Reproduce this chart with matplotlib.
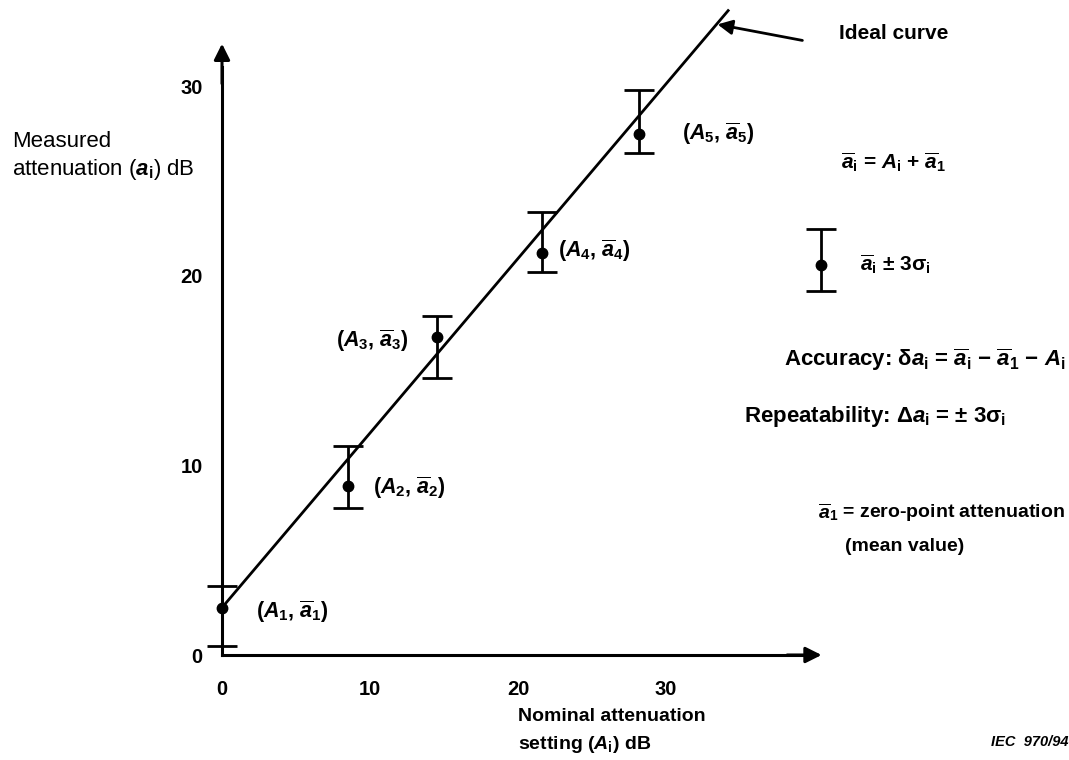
import matplotlib
matplotlib.use("Agg")
import matplotlib.pyplot as plt

plt.rcParams['font.family'] = ['Liberation Sans', 'DejaVu Sans']
plt.rcParams['mathtext.fontset'] = 'custom'
plt.rcParams['mathtext.rm'] = 'Liberation Sans:bold'
plt.rcParams['mathtext.it'] = 'Liberation Sans:italic:bold'
plt.rcParams['mathtext.bf'] = 'Liberation Sans:bold'
plt.rcParams['mathtext.sf'] = 'Liberation Sans:bold'

# Nominal settings A_i and measured means / spread (dB)
nominal = [0.0, 8.5, 14.5, 21.6, 28.2]
mean_att = [2.5, 8.9, 16.8, 21.2, 27.5]
err_low = [2.05, 1.15, 2.2, 1.0, 1.0]
err_high = [1.15, 2.15, 1.1, 2.2, 2.3]
point_labels = [r'($A_1$, $\overline{a}_1$)', r'($A_2$, $\overline{a}_2$)',
                r'($A_3$, $\overline{a}_3$)', r'($A_4$, $\overline{a}_4$)',
                r'($A_5$, $\overline{a}_5$)']
label_pos = [(2.3, 2.3), (10.2, 8.8), (7.7, 16.6), (22.7, 21.3), (31.1, 27.5)]

# ideal curve end points
ideal_x = [0.0, 34.2]
ideal_y = [2.5, 34.0]

ticks = [0, 10, 20, 30]

fs = 15

fig = plt.figure(figsize=(10.69, 7.60), dpi=100)
ax = fig.add_axes([0, 0, 1, 1])
ax.set_xlim(-15.0, 57.23)
ax.set_ylim(-5.54, 34.56)

# axes through the origin
for side in ['top', 'right']:
    ax.spines[side].set_visible(False)
ax.spines['left'].set_position(('data', 0))
ax.spines['bottom'].set_position(('data', 0))
ax.spines['left'].set_bounds(0, 31.0)
ax.spines['bottom'].set_bounds(0, 39.5)
ax.spines['left'].set_linewidth(2.2)
ax.spines['bottom'].set_linewidth(2.2)
ax.annotate('', xy=(0, 32.4), xytext=(0, 30.0),
            arrowprops=dict(arrowstyle='-|>', lw=2.2, color='black', mutation_scale=24))
ax.annotate('', xy=(40.7, 0), xytext=(38.0, 0),
            arrowprops=dict(arrowstyle='-|>', lw=2.2, color='black', mutation_scale=24))

ax.set_xticks(ticks)
ax.set_yticks(ticks)
ax.tick_params(length=0, labelsize=14.5)
ax.tick_params(axis='x', pad=18)
ax.tick_params(axis='y', pad=14)
for lab in ax.get_xticklabels() + ax.get_yticklabels():
    lab.set_fontweight('bold')

# ideal curve
ax.plot(ideal_x, ideal_y, color='black', lw=2.0)
ax.annotate('', xy=(33.3, 33.3), xytext=(39.4, 32.4),
            arrowprops=dict(arrowstyle='-|>', lw=2.0, color='black', mutation_scale=22))
ax.text(41.7, 32.8, 'Ideal curve', fontsize=fs, fontweight='bold', va='center')

# measured points with error bars
ax.errorbar(nominal, mean_att, yerr=[err_low, err_high], fmt='o', color='black',
            ms=7.5, lw=2.0, capsize=11, capthick=2.0)
for lab, (lx, ly) in zip(point_labels, label_pos):
    ax.text(lx, ly, lab, fontsize=fs + 0.5, fontweight='bold', va='center')

# legend error bar
ax.errorbar([40.5], [20.6], yerr=[[1.4], [1.9]], fmt='o', color='black',
            ms=7.5, lw=2.0, capsize=11, capthick=2.0)
ax.text(43.1, 20.6, r'$\overline{a}_\mathrm{i}$ $\pm$ 3$\mathrm{\sigma}_\mathrm{i}$',
        fontsize=fs, fontweight='bold', va='center')

ax.text(41.8, 26.0, r'$\overline{a}_\mathrm{i}$ = $A_\mathrm{i}$ + $\overline{a}_1$',
        fontsize=fs, fontweight='bold', va='center')
ax.text(57.0, 15.6, r'Accuracy: $\mathrm{\delta}a_\mathrm{i}$ = $\overline{a}_\mathrm{i}$ $-$ $\overline{a}_1$ $-$ $A_\mathrm{i}$',
        fontsize=16, fontweight='bold', va='center', ha='right')
ax.text(35.3, 12.6, r'Repeatability: $\Delta a_\mathrm{i}$ = $\pm$ 3$\mathrm{\sigma}_\mathrm{i}$',
        fontsize=16, fontweight='bold', va='center')
ax.text(40.3, 7.5, r'$\overline{a}_1$ = zero-point attenuation',
        fontsize=fs - 1, fontweight='bold', va='center')
ax.text(42.1, 5.7, '(mean value)', fontsize=fs - 1, fontweight='bold', va='center')

# axis titles
ax.text(-14.2, 26.3, 'Measured\nattenuation ($a_\\mathrm{i}$) dB', fontsize=16,
        va='center', ha='left', linespacing=1.3)
ax.text(20.0, -4.05, 'Nominal attenuation\nsetting ($A_\\mathrm{i}$) dB', fontsize=14,
        fontweight='bold', va='center', ha='left', linespacing=1.6)
ax.text(57.2, -4.6, 'IEC  970/94', fontsize=10.5, fontweight='bold', style='italic',
        va='center', ha='right')

fig.savefig('out.png', dpi=100)
